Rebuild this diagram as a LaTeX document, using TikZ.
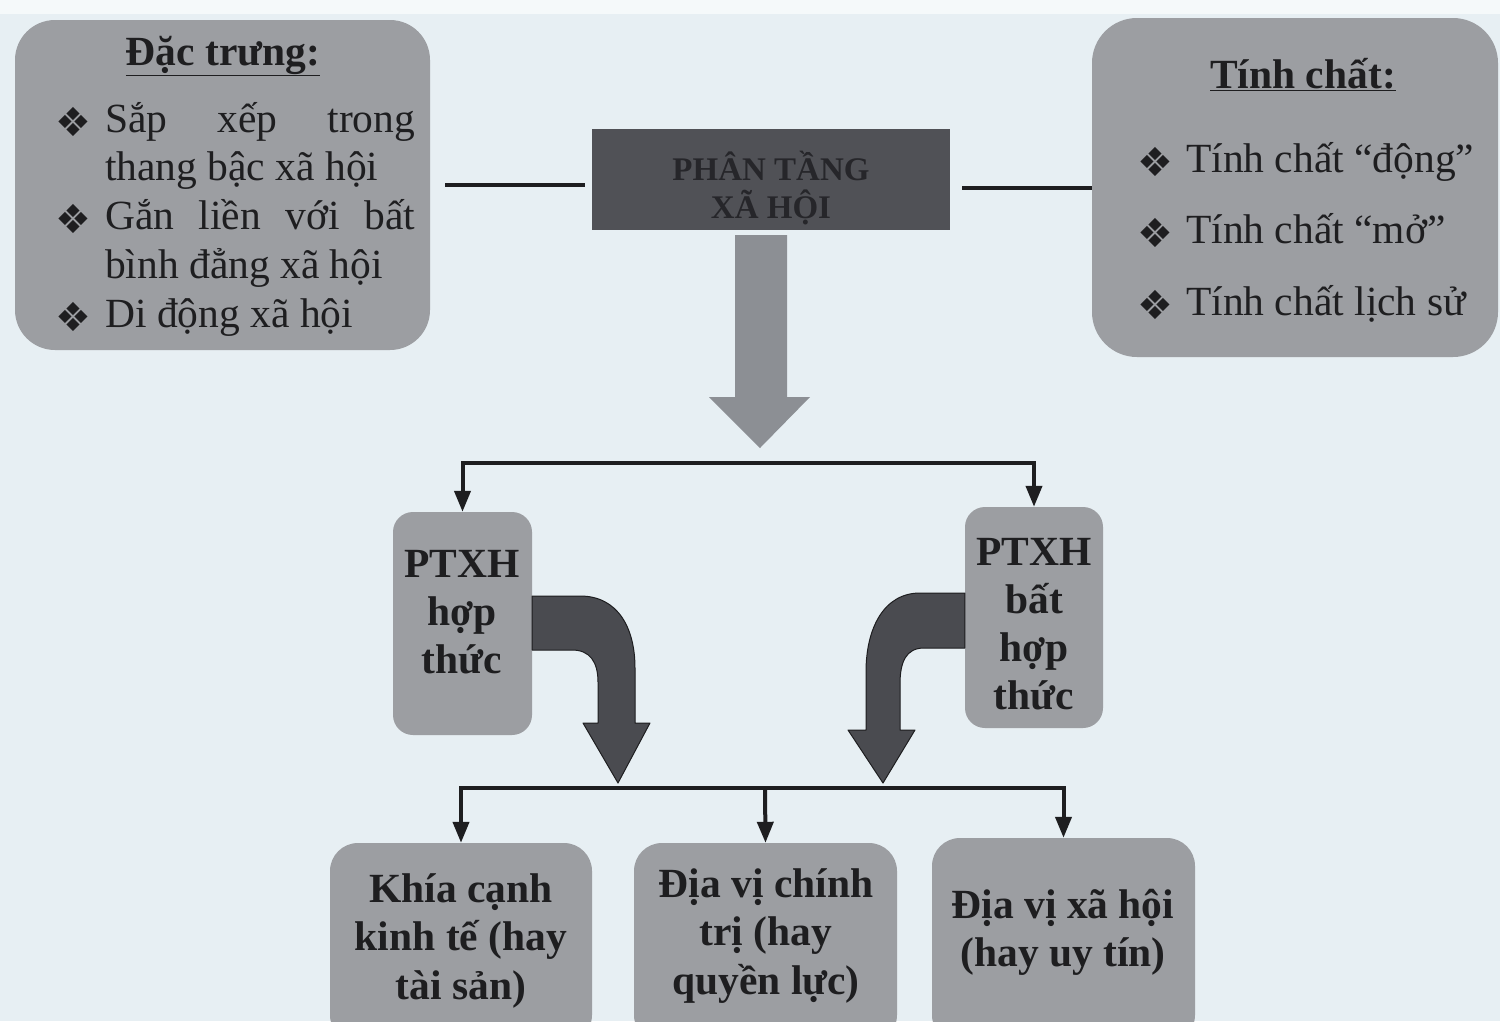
\documentclass[tikz,border=0pt]{standalone}
\usepackage{fontspec}
\setmainfont{Liberation Serif}
\newfontfamily\symfont{DejaVu Sans}
\usetikzlibrary{arrows.meta,calc}
\definecolor{bg}{HTML}{E7EFF3}
\definecolor{boxgray}{HTML}{9C9EA2}
\definecolor{darkbox}{HTML}{505156}
\definecolor{arrowgray}{HTML}{8C8F94}
\definecolor{darkarrow}{HTML}{4A4B50}
\definecolor{ink}{HTML}{1E1E20}
\definecolor{darkink}{HTML}{26262A}
\tikzset{
  graybox/.style={fill=boxgray, draw=none, rounded corners=40pt, inner sep=0pt},
  smallbox/.style={fill=boxgray, draw=none, rounded corners=20pt, inner sep=0pt},
  txt/.style={inner sep=0pt, text=ink, font=\fontsize{41.5}{48}\selectfont},
  txtb/.style={inner sep=0pt, text=ink, font=\fontsize{41.5}{48}\selectfont\bfseries},
  bul/.style={inner sep=0pt, text=ink, font=\symfont\fontsize{40}{40}\selectfont},
  conn/.style={draw=ink, line width=4pt},
  arr/.style={conn, -{Triangle[length=21pt,width=16pt]}},
  blockarrow/.style={fill=arrowgray, draw=none},
  curvearrow/.style={fill=darkarrow, draw=ink, line width=1pt, line join=round}
}
\begin{document}
\begin{tikzpicture}[x=1pt,y=-1pt]
\useasboundingbox (0,0) rectangle (1500,1021);
\clip (0,0) rectangle (1500,1021);
\fill[bg] (0,0) rectangle (1500,1021);
\fill[white!60!bg] (0,0) rectangle (1500,14);

% --- top boxes ---
\node[graybox, minimum width=415pt, minimum height=330pt] (dac) at (222.5,185) {};
\node[graybox, rounded corners=45pt, minimum width=406pt, minimum height=339pt] (tc) at (1295,187.5) {};
\node[fill=darkbox, draw=none, inner sep=0pt, minimum width=358pt, minimum height=101pt] (pt) at (771,179.5) {};

% left box text
\node[txtb, anchor=base] (dac-t) at (223,65) {\underline{Đặc trưng:}};
\node[bul] (dac-b1) at (73,122) {❖};
\node[bul] (dac-b2) at (73,219) {❖};
\node[bul] (dac-b3) at (73,317) {❖};
\node[txt, anchor=base west] (dac-1) at (105,132) {\makebox[310pt][s]{Sắp xếp trong}};
\node[txt, anchor=base west] (dac-2) at (105,180) {thang bậc xã hội};
\node[txt, anchor=base west] (dac-3) at (105,229) {\makebox[310pt][s]{Gắn liền với bất}};
\node[txt, anchor=base west] (dac-4) at (105,278) {bình đẳng xã hội};
\node[txt, anchor=base west] (dac-5) at (105,327) {Di động xã hội};

% right box text
\node[txtb, anchor=base] (tc-t) at (1303,88) {\underline{Tính chất:}};
\node[bul] (tc-b1) at (1155,162) {❖};
\node[bul] (tc-b2) at (1155,233) {❖};
\node[bul] (tc-b3) at (1155,305) {❖};
\node[txt, anchor=base west] (tc-1) at (1186,172) {Tính chất “động”};
\node[txt, anchor=base west] (tc-2) at (1186,243) {Tính chất “mở”};
\node[txt, anchor=base west] (tc-3) at (1186,315) {Tính chất lịch sử};

% center box text
\node[inner sep=0pt, text=darkink, font=\fontsize{33}{38}\selectfont\bfseries, anchor=base] (pt-1) at (771,180) {PHÂN TẦNG};
\node[inner sep=0pt, text=darkink, font=\fontsize{33}{38}\selectfont\bfseries, anchor=base] (pt-2) at (771,218) {XÃ HỘI};

% connectors between top boxes
\draw[conn, shorten <=15pt, shorten >=7pt] (dac.east) -- (dac.east -| pt.west);
\draw[conn, shorten <=12pt] (pt.east |- tc.west) -- (tc.west);

% --- middle boxes ---
\node[smallbox, minimum width=139pt, minimum height=223pt] (l1) at (462.5,623.5) {};
\node[smallbox, minimum width=138pt, minimum height=221pt] (r1) at (1034,617.5) {};
\node[txtb, anchor=base] (l1-1) at (462,577) {PTXH};
\node[txtb, anchor=base] (l1-2) at (462,625) {hợp};
\node[txtb, anchor=base] (l1-3) at (462,673) {thức};
\node[txtb, anchor=base] (r1-1) at (1034,565) {PTXH};
\node[txtb, anchor=base] (r1-2) at (1034,613) {bất};
\node[txtb, anchor=base] (r1-3) at (1034,661) {hợp};
\node[txtb, anchor=base] (r1-4) at (1034,709) {thức};

% big gray arrow from centre box down to the split
\coordinate (split) at (761,463);
\fill[blockarrow] (735,235) -- (787,235) -- (787,397) -- (810,397) -- (760,448) -- (709,397) -- (735,397) -- cycle;

% split bracket
\draw[arr] (split) -| (l1.north);
\draw[arr] (split) -| (r1.north);

% --- bottom boxes ---
\node[smallbox, rounded corners=28pt, minimum width=262pt, minimum height=200pt] (b1) at (461,943) {};
\node[smallbox, rounded corners=28pt, minimum width=263pt, minimum height=200pt] (b2) at (765.5,943) {};
\node[smallbox, rounded corners=28pt, minimum width=263pt, minimum height=205pt] (b3) at (1063.5,940.5) {};
\node[txtb, anchor=base] (b1-1) at (461,902) {Khía cạnh};
\node[txtb, anchor=base] (b1-2) at (461,950) {kinh tế (hay};
\node[txtb, anchor=base] (b1-3) at (461,999) {tài sản)};
\node[txtb, anchor=base] (b2-1) at (766,897) {Địa vị chính};
\node[txtb, anchor=base] (b2-2) at (766,945) {trị (hay};
\node[txtb, anchor=base] (b2-3) at (766,994) {quyền lực)};
\node[txtb, anchor=base] (b3-1) at (1063,918) {Địa vị xã hội};
\node[txtb, anchor=base] (b3-2) at (1063,966) {(hay uy tín)};

% merge bracket
\coordinate (merge) at (765,788);
\draw[arr] (merge) -| (b1.north);
\draw[arr] (merge) -- (b2.north);
\draw[arr] (merge) -| (b3.north);

% curved dark arrows
\draw[curvearrow] (l1.east |- 0,596) -- (580,596) .. controls (618,596) and (635,628) .. (635,668) -- (635,723) -- (650,723) -- (618,783) -- (583,723) -- (598,723) -- (598,682) .. controls (598,662) and (590,650) .. (572,650) -- (l1.east |- 0,650) -- cycle;
\draw[curvearrow] (r1.west |- 0,593) -- (920,593) .. controls (884,593) and (866,628) .. (866,672) -- (866,730) -- (848,730) -- (883,783) -- (915,730) -- (900,730) -- (900,684) .. controls (900,662) and (906,648) .. (924,648) -- (r1.west |- 0,648) -- cycle;
\end{tikzpicture}
\end{document}
